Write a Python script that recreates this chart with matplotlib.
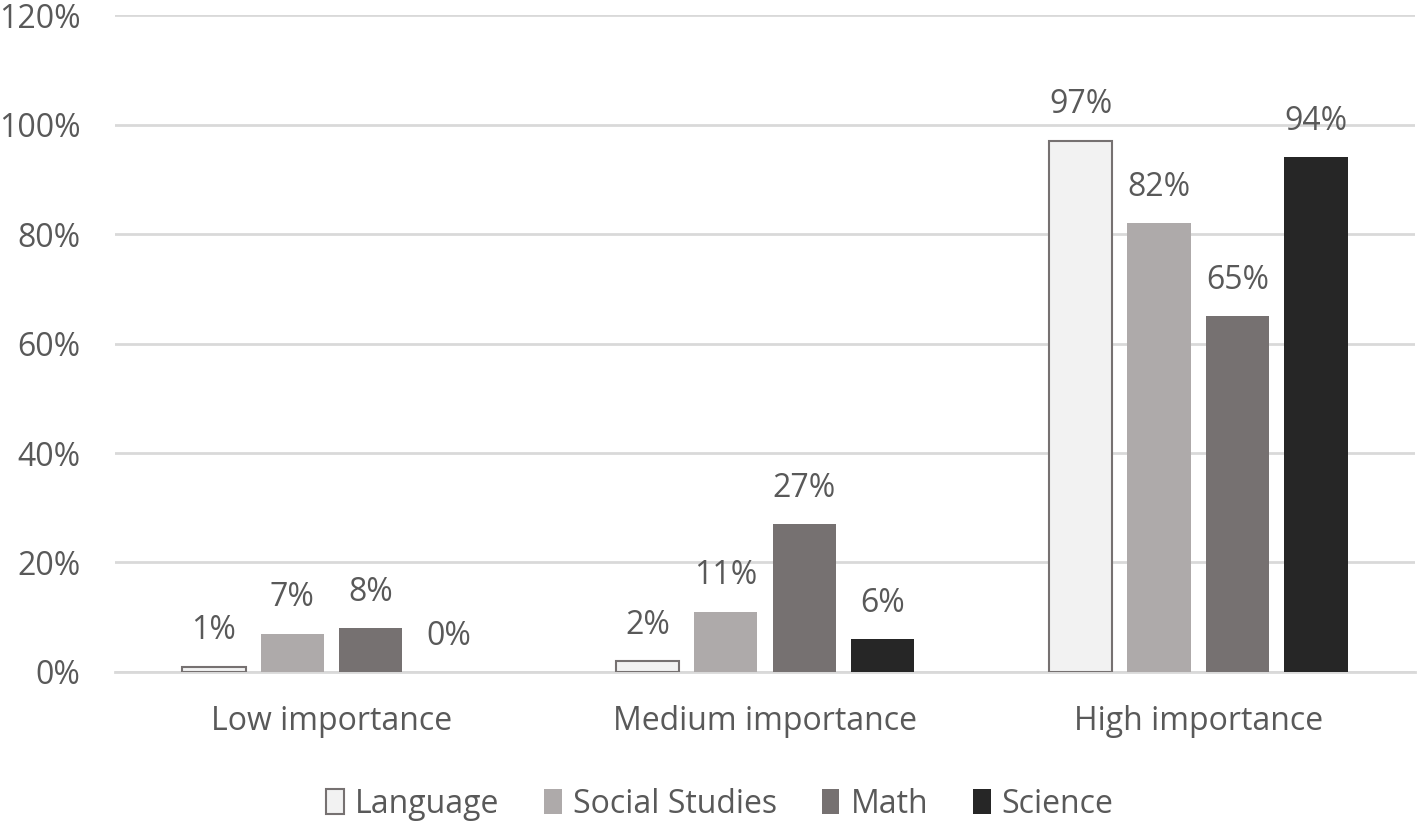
import matplotlib
matplotlib.use("Agg")
import matplotlib.pyplot as plt
import numpy as np

categories = ["Low importance", "Medium importance", "High importance"]
series_names = ["Language", "Social Studies", "Math", "Science"]
language = [1, 2, 97]
social_studies = [7, 11, 82]
math_vals = [8, 27, 65]
science = [0, 6, 94]
y_ticks = [0, 20, 40, 60, 80, 100, 120]

series = [language, social_studies, math_vals, science]
fills = ["#f2f2f2", "#aeaaaa", "#767171", "#262626"]
edges = ["#767171", "#aeaaaa", "#767171", "#262626"]
lws = [1.5, 0, 0, 0]

plt.rcParams['font.family'] = ['Open Sans', 'DejaVu Sans']
text_color = "#595959"
fs = 23

fig = plt.figure(figsize=(14.21, 8.21), dpi=100)
ax = fig.add_axes([0.0809, 0.1815, 0.9149, 0.8002])

x = np.arange(len(categories))
step = 0.181
width = 0.146
for i, (vals, name) in enumerate(zip(series, series_names)):
    pos = x + (i - 1.5) * step
    ax.bar(pos, vals, width=width, color=fills[i], edgecolor=edges[i],
           linewidth=lws[i], label=name, zorder=3)
    for p, v in zip(pos, vals):
        ax.annotate(f"{v}%", (p, v), xytext=(0, 14), textcoords="offset points",
                    ha="center", va="bottom", fontsize=fs, color=text_color, zorder=4)

ax.set_xlim(-0.5, 2.5)
ax.set_ylim(0, 120)
ax.set_yticks(y_ticks)
ax.set_yticklabels([f"{t}%" for t in y_ticks])
ax.set_xticks(x)
ax.set_xticklabels(categories)
ax.tick_params(axis="both", length=0, labelsize=fs, labelcolor=text_color)
ax.tick_params(axis="y", pad=25)
ax.tick_params(axis="x", pad=24)
ax.yaxis.grid(True, color="#d9d9d9", linewidth=2, zorder=0)
for s in ["top", "right", "left"]:
    ax.spines[s].set_visible(False)
ax.spines["bottom"].set_color("#d9d9d9")
ax.spines["bottom"].set_linewidth(2)

fig.legend(loc="center", bbox_to_anchor=(720 / 1421, 1 - 804 / 821), ncol=4,
           frameon=False, fontsize=fs, handlelength=0.55, handleheight=0.8,
           handletextpad=0.35, columnspacing=1.4, labelcolor=text_color)

fig.savefig("out.png", dpi=100)
